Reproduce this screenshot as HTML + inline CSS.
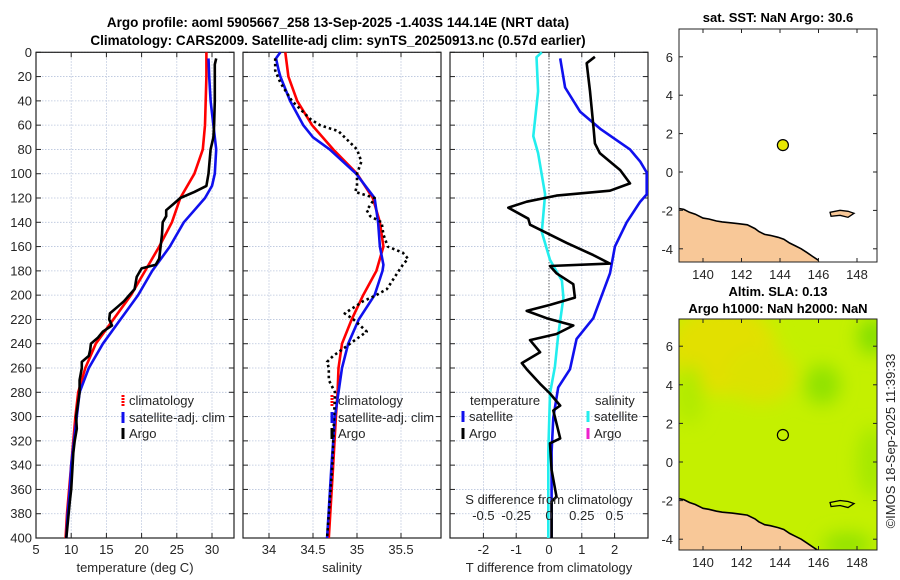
<!DOCTYPE html>
<html><head><meta charset="utf-8"><style>
html,body{margin:0;padding:0;background:#fff;}
svg{display:block;font-family:"Liberation Sans","DejaVu Sans",sans-serif;}
</style></head><body>
<svg id="chart" width="900" height="580" viewBox="0 0 900 580">
<defs>
<filter id="blur" x="-50%" y="-50%" width="200%" height="200%"><feGaussianBlur stdDeviation="9"/></filter>
<clipPath id="clipm1"><rect x="679" y="29" width="198" height="233"/></clipPath>
<clipPath id="clipm2"><rect x="679" y="319" width="198" height="231"/></clipPath>
</defs>
<text x="338" y="27" text-anchor="middle" font-size="13.5" font-weight="bold">Argo profile: aoml 5905667_258 13-Sep-2025 -1.403S 144.14E (NRT data)</text>
<text x="338" y="45" text-anchor="middle" font-size="13.5" font-weight="bold">Climatology: CARS2009. Satellite-adj clim: synTS_20250913.nc (0.57d earlier)</text>
<g id="g"></g>
</svg>
<script>
// ---- data ----
const depthTick = [0,20,40,60,80,100,120,140,160,180,200,220,240,260,280,300,320,340,360,380,400];
const climTdep = [0,20,60,80,100,120,140,160,180,200,220,240,260,280,300,320,340,360,380,400];
const climT = [29.2,29.2,29,28.7,27.5,25.5,24.3,22.5,20.5,18.5,16,13.5,12,11,10.6,10.3,10,9.7,9.4,9.2];
const satTdep = [5,20,40,60,80,100,110,120,130,140,160,180,200,220,240,260,280,300,320,340,360,380,400];
const satT = [29.5,29.6,29.8,30.2,30.6,30.4,30,29,27.5,26,24,21.5,19.5,17,14.5,12.5,11.2,10.8,10.4,10,9.8,9.5,9.3];
const argoTdep = [5,10,20,40,60,70,80,100,110,115,120,125,130,135,140,150,160,170,175,178,185,195,205,210,215,220,225,230,235,240,245,250,255,260,270,280,300,310,320,330,360,370,400];
const argoT = [30.6,30.4,30.4,30.4,30.3,30.2,29.8,29.5,29.2,27.5,25.5,24.5,23.5,23.5,23,22.9,22.7,22.5,22,20,19.3,19,17.5,16.5,15.5,15.4,15.8,14.5,13.8,12.8,12.7,12.5,11.5,11.5,11.2,11.2,10.7,10.8,10.5,10.3,10,9.8,9.3];
const climSdep = [0,20,40,60,80,100,120,140,160,180,200,220,240,260,280,300,340,400];
const climS = [34.185,34.22,34.32,34.49,34.73,35.0,35.18,35.26,35.3,35.22,35.07,34.94,34.83,34.79,34.78,34.76,34.73,34.68];
const satSdep = [0,5,15,20,40,60,70,80,100,120,140,160,175,180,200,220,240,260,280,300,340,400];
const satS = [34.13,34.08,34.11,34.13,34.24,34.39,34.5,34.69,34.99,35.2,35.24,35.26,35.3,35.29,35.2,35.02,34.9,34.83,34.79,34.75,34.71,34.66];
const argoSdep = [5,15,25,40,55,60,65,70,80,90,100,110,115,120,125,130,135,140,150,160,165,170,175,185,195,200,205,215,220,230,240,250,255,260,270,280,300,340,400];
const argoS = [34.07,34.07,34.13,34.26,34.47,34.58,34.79,34.86,35.0,35.05,35.0,35.0,34.98,35.2,35.16,35.11,35.15,35.28,35.3,35.35,35.52,35.58,35.52,35.43,35.34,35.22,35.07,34.86,34.96,35.11,34.92,34.73,34.66,34.68,34.68,34.75,34.74,34.72,34.66];
const dTargoDep = [3.7,9,32,60,75,83,97,108,114,118,123,128,137,142,157,167,174,176,182,191,202,208,213,219,225,232,237,247,256,261,273,281,291,295,318,322,344,366,370,400];
const dTargo = [1.4,1.15,1.25,1.35,1.4,1.55,2.17,2.47,1.86,0.23,-0.68,-1.24,-0.63,-0.58,0.54,1.35,1.86,0.03,0.23,0.74,0.79,0.03,-0.68,-0.07,0.74,0.23,-0.58,-0.27,-0.83,-0.68,-0.27,0.03,0.34,0.13,0.34,0.03,0.08,0.23,0.08,0.08];
const dTsatDep = [5,29,49,63,80,90,99,117,123,140,160,182,219,236,261,276,301,329,400];
const dTsat = [0.34,0.49,0.95,1.56,2.47,2.78,2.98,2.98,2.78,2.37,2.01,1.86,1.35,0.84,0.64,0.28,0.13,0.08,0.08];
const dSsatDep = [0,4,32,69,83,117,148,171,188,202,233,259,281,329,400];
const dSsat = [-0.055,-0.095,-0.083,-0.12,-0.083,-0.03,-0.055,0.008,0.098,0.11,0.07,0.045,0.008,-0.005,-0.005];
const tTicks = [5,10,15,20,25,30];
const sTicks = [34,34.5,35,35.5];
const dtTicks = [-2,-1,0,1,2];
const dsTicks = [-0.5,-0.25,0,0.25,0.5];
const dsTickLabels = ["-0.5","-0.25","0","0.25","0.5"];
const lonTicks = [140,142,144,146,148];
const latTicks = [-4,-2,0,2,4,6];
const argoLon = [144.15], argoLat = [1.4];
const coastLon = [138.75,139.0,139.3,139.6,140.0,140.3,140.7,141.0,141.5,141.9,142.3,142.7,142.9,143.2,143.5,143.9,144.2,144.5,144.8,145.1,145.4,145.7,146.0];
const coastLat = [-1.9,-1.95,-2.1,-2.2,-2.4,-2.45,-2.55,-2.6,-2.65,-2.7,-2.75,-2.95,-3.1,-3.25,-3.3,-3.4,-3.5,-3.7,-3.85,-4.0,-4.2,-4.4,-4.6];

// ---- helpers ----
const NS="http://www.w3.org/2000/svg";
const G=document.getElementById('g');
function mk(tag,attrs,parent){const e=document.createElementNS(NS,tag);for(const k in attrs)e.setAttribute(k,attrs[k]);(parent||G).appendChild(e);return e;}
const Y0=52.3, Y1=538;
const yD = d => Y0 + d*(Y1-Y0)/400;
const xT = t => 36 + (t-5)*7.04;
const xS = s => 269 + (s-34)*88;
const xDT = t => 549 + t*32.8;
const xDS = s => 549 + s*4*32.8;
const TXT='#262626';

function panel(x0,x1,xt,ticks,labels,showY,name){
  const grp=mk('g',{});
  
  
  ticks.forEach(t=>{mk('line',{x1:xt(t),x2:xt(t),y1:Y0,y2:Y1,stroke:'#b8c4dc','stroke-width':0.8,'stroke-dasharray':'1.5,1.5'},grp);});
  depthTick.forEach(d=>{mk('line',{x1:x0,x2:x1,y1:yD(d),y2:yD(d),stroke:'#b8c4dc','stroke-width':0.8,'stroke-dasharray':'1.5,1.5'},grp);
    mk('line',{x1:x0,x2:x0+5,y1:yD(d),y2:yD(d),stroke:'#222'},grp);
    mk('line',{x1:x1-5,x2:x1,y1:yD(d),y2:yD(d),stroke:'#222'},grp);
    if(showY){const t=mk('text',{x:x0-4,y:yD(d)+4.5,'text-anchor':'end','font-size':13,fill:TXT},grp);t.textContent=d;
      
      }
  });
  ticks.forEach((t,i)=>{mk('line',{x1:xt(t),x2:xt(t),y1:Y1,y2:Y1-5,stroke:'#222'},grp);mk('line',{x1:xt(t),x2:xt(t),y1:Y0,y2:Y0+5,stroke:'#222'},grp);
    if(labels){const e=mk('text',{x:xt(t),y:554,'text-anchor':'middle','font-size':13,fill:TXT},grp);e.textContent=labels[i];
      
      }
  });
  mk('rect',{x:x0,y:Y0,width:x1-x0,height:Y1-Y0,fill:'none',stroke:'#222','stroke-width':1.2},grp);
  return grp;
}
function line(xs,ds,xf,color,name,dash,w){
  const p=xs.map((v,i)=>(i?'L':'M')+xf(v).toFixed(1)+','+yD(ds[i]).toFixed(1)).join('');
  const e=mk('path',{d:p,fill:'none',stroke:color,'stroke-width':w||2.6,'stroke-linejoin':'round'});
  if(dash)e.setAttribute('stroke-dasharray',dash);
  
  
  return e;
}
function txt(x,y,s,opts,name){const e=mk('text',Object.assign({x:x,y:y,'font-size':13,fill:TXT},opts||{}));e.textContent=s;
  
  return e;}

// panel 1
panel(36,234,xT,tTicks,tTicks.map(String),true,'temperature-panel');
line(climT,climTdep,xT,'#f00','climatology-temperature-line');
line(satT,satTdep,xT,'#1010ee','satellite-temperature-line');
line(argoT,argoTdep,xT,'#000','argo-temperature-line');
txt(135,572,'temperature (deg C)',{'text-anchor':'middle'},'temperature-axis-title');
// panel 2
panel(243,441,xS,sTicks,sTicks.map(String),false,'salinity-panel');
line(climS,climSdep,xS,'#f00','climatology-salinity-line');
line(satS,satSdep,xS,'#1010ee','satellite-salinity-line');
line(argoS,argoSdep,xS,'#000','argo-salinity-line','2.5,3',2.6);
txt(342,572,'salinity',{'text-anchor':'middle'},'salinity-axis-title');
// panel 3
panel(450,648,xDT,dtTicks,dtTicks.map(String),false,'difference-panel');
mk('line',{x1:549,x2:549,y1:Y0,y2:Y1,stroke:'#333','stroke-width':1,'stroke-dasharray':'1,2'});
line(dSsat,dSsatDep,xDS,'#22eeee','salinity-satellite-difference-line');
line(dTsat,dTsatDep,xDT,'#1010ee','temperature-satellite-difference-line');
line(dTargo,dTargoDep,xDT,'#000','temperature-argo-difference-line');
txt(549,572,'T difference from climatology',{'text-anchor':'middle'},'t-difference-axis-title');
txt(549,504,'S difference from climatology',{'text-anchor':'middle'},'s-difference-axis-title');
dsTicks.forEach((s,i)=>txt(xDS(s),520,dsTickLabels[i],{'text-anchor':'middle'},'s-difference-tick-label'));

// legends
function legItem(mx,y,color,label,name,dashed){
  const m=mk('line',{x1:mx,x2:mx,y1:y-10,y2:y+1,stroke:color,'stroke-width':3});
  if(dashed)m.setAttribute('stroke-dasharray','2,1');
  
  
  txt(mx+6,y,label,{},name+'-label');
}
legItem(123,405,'#f00','climatology','legend-climatology',true);
legItem(123,422,'#1010ee','satellite-adj. clim','legend-satellite-adj');
legItem(123,438,'#000','Argo','legend-argo');
legItem(332,405,'#f00','climatology','legend2-climatology',true);
legItem(332,422,'#1010ee','satellite-adj. clim','legend2-satellite-adj');
legItem(332,438,'#000','Argo','legend2-argo');
txt(470,405,'temperature',{},'legend-temperature-header');
txt(595,405,'salinity',{},'legend-salinity-header');
legItem(463,421,'#1010ee','satellite','legend-temp-satellite');
legItem(463,438,'#000','Argo','legend-temp-argo');
legItem(588,421,'#22eeee','satellite','legend-sal-satellite');
legItem(588,438,'#ee22cc','Argo','legend-sal-argo');

// maps
function map(top,bot,lat0,scale,name,field){
  const xL = lon => 703 + (lon-140)*19.25;
  const yL = lat => lat0 - lat*scale;
  const grp=mk('g',{});
  
  
  const clip=field?'url(#clipm2)':'url(#clipm1)';
  const inner=mk('g',{'clip-path':clip},grp);
  if(field){
    mk('rect',{x:679,y:top,width:198,height:bot-top,fill:'#c4f000'},inner);
    const fg=mk('g',{filter:'url(#blur)'},inner);
    mk('ellipse',{cx:xL(141),cy:yL(5.8),rx:55,ry:45,fill:'#e2e000'},fg);
    mk('ellipse',{cx:xL(143),cy:yL(4.5),rx:35,ry:28,fill:'#dce200'},fg);
    mk('ellipse',{cx:xL(146.2),cy:yL(4),rx:18,ry:20,fill:'#90e200'},fg);
    mk('ellipse',{cx:xL(148.8),cy:yL(6.5),rx:14,ry:18,fill:'#80de00'},fg);
    mk('ellipse',{cx:xL(148.8),cy:yL(0),rx:15,ry:35,fill:'#a4e800'},fg);
    mk('ellipse',{cx:xL(147.5),cy:yL(-4.3),rx:25,ry:12,fill:'#90e200'},fg);
    mk('ellipse',{cx:xL(139.3),cy:yL(3.5),rx:14,ry:30,fill:'#b0ea00'},fg);
  }
  const pts=coastLon.map((v,i)=>xL(v).toFixed(1)+','+yL(coastLat[i]).toFixed(1)).join(' ');
  const land=mk('polygon',{points:'679,'+bot+' '+pts+' '+xL(146.1)+','+bot,fill:'#f8c898'},inner);
  
  
  const cl=mk('polyline',{points:pts,fill:'none',stroke:'#000','stroke-width':1.6},inner);
  
  
  mk('path',{d:`M${xL(146.6)},${yL(-2.1)} l10,-2 l8,1 l6,2 l-6,4 l-8,-2 l-9,1 z`,fill:field?'none':'#f8c898',stroke:'#000','stroke-width':1.3},inner);
  mk('rect',{x:679,y:top,width:198,height:bot-top,fill:'none',stroke:'#222','stroke-width':1},grp);
  lonTicks.forEach(l=>{mk('line',{x1:xL(l),x2:xL(l),y1:bot,y2:bot-4,stroke:'#222'},grp);mk('line',{x1:xL(l),x2:xL(l),y1:top,y2:top+4,stroke:'#222'},grp);
    txt(xL(l),bot+17,String(l),{'text-anchor':'middle'},'longitude-tick-label');});
  latTicks.forEach(l=>{mk('line',{x1:679,x2:683,y1:yL(l),y2:yL(l),stroke:'#222'},grp);mk('line',{x1:873,x2:877,y1:yL(l),y2:yL(l),stroke:'#222'},grp);
    txt(673,yL(l)+5,String(l),{'text-anchor':'end'},'latitude-tick-label');});
  argoLon.forEach((lo,i)=>{const c=mk('circle',{cx:xL(lo),cy:yL(argoLat[i]),r:5.5,fill:field?'none':'#e8e800',stroke:'#000','stroke-width':1.2},grp);
    
    });
}
map(29,262,172,19.2,'sst-map',false);
map(319,550,462,19.3,'sla-map',true);
txt(778,22,'sat. SST: NaN Argo: 30.6',{'text-anchor':'middle','font-weight':'bold','fill':'#000'},'sst-map-title');
txt(778,296,'Altim. SLA: 0.13',{'text-anchor':'middle','font-weight':'bold','fill':'#000'},'sla-map-title');
txt(778,313,'Argo h1000: NaN h2000: NaN',{'text-anchor':'middle','font-weight':'bold','fill':'#000'},'sla-map-subtitle');
txt(0,0,'©IMOS 18-Sep-2025 11:39:33',{'text-anchor':'middle',transform:'translate(895,441) rotate(-90)'},'timestamp-credit');
</script>
</body></html>
